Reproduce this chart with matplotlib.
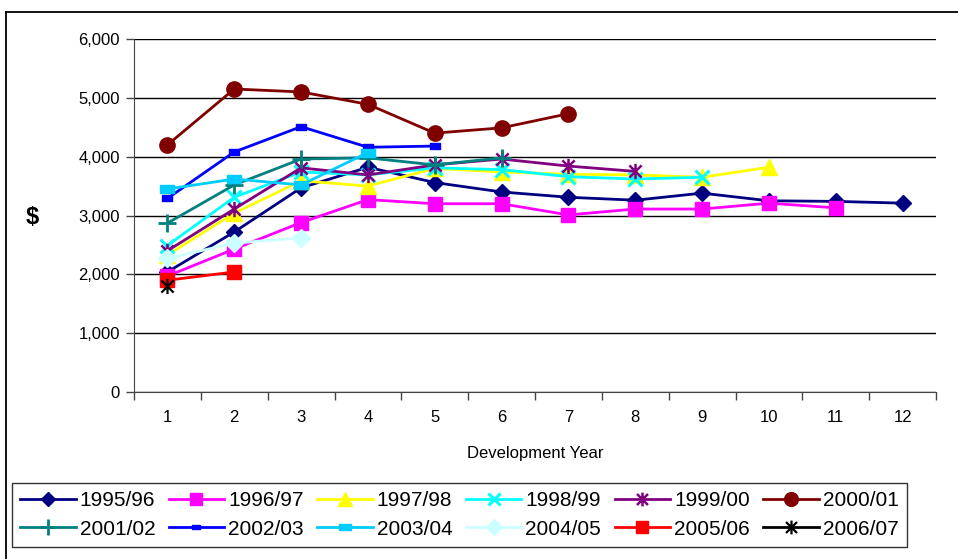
import matplotlib
matplotlib.use("Agg")
import matplotlib.pyplot as plt
from matplotlib.path import Path
from matplotlib.lines import Line2D
from matplotlib.ticker import FuncFormatter, FixedLocator, NullFormatter

plt.rcParams['font.family'] = ['Liberation Sans', 'DejaVu Sans']

dev_years = list(range(1, 13))

s1995 = [2040, 2720, 3470, 3820, 3560, 3400, 3310, 3260, 3380, 3250, 3240, 3210]
s1996 = [1970, 2430, 2880, 3270, 3200, 3200, 3010, 3110, 3110, 3210, 3130]
s1997 = [2330, 3040, 3590, 3500, 3800, 3740, 3700, 3690, 3650, 3820]
s1998 = [2490, 3310, 3740, 3690, 3810, 3780, 3660, 3620, 3650]
s1999 = [2400, 3110, 3810, 3690, 3860, 3960, 3840, 3750]
s2000 = [4200, 5150, 5100, 4890, 4400, 4490, 4730]
s2001 = [2870, 3520, 3960, 3980, 3860, 3980]
s2002 = [3290, 4080, 4510, 4160, 4180]
s2003 = [3450, 3620, 3520, 4070]
s2004 = [2270, 2530, 2620]
s2005 = [1900, 2040]
s2006 = [1800]

labels = ["1995/96", "1996/97", "1997/98", "1998/99", "1999/00", "2000/01",
          "2001/02", "2002/03", "2003/04", "2004/05", "2005/06", "2006/07"]
series = [s1995, s1996, s1997, s1998, s1999, s2000,
          s2001, s2002, s2003, s2004, s2005, s2006]

# asterisk marker: an x crossed by a vertical bar
asterisk = Path([(-1, -1), (1, 1), (-1, 1), (1, -1), (0, -1.25), (0, 1.25)],
                [Path.MOVETO, Path.LINETO, Path.MOVETO, Path.LINETO,
                 Path.MOVETO, Path.LINETO])
# flat bar marker used by the 2002/03 and 2003/04 series
flatbar = Path([(-1, -0.55), (1, -0.55), (1, 0.55), (-1, 0.55), (-1, -0.55)],
               [Path.MOVETO, Path.LINETO, Path.LINETO, Path.LINETO, Path.CLOSEPOLY])

styles = [
    dict(color="#000080", marker="D", ms=8),
    dict(color="#FF00FF", marker="s", ms=10),
    dict(color="#FFFF00", marker="^", ms=11),
    dict(color="#00FFFF", marker="x", ms=10, mew=2.2),
    dict(color="#800080", marker=asterisk, ms=11, mew=1.8),
    dict(color="#800000", marker="o", ms=11),
    dict(color="#008080", marker="+", ms=13, mew=2.0),
    dict(color="#0000FF", marker=flatbar, ms=7),
    dict(color="#00CCFF", marker=flatbar, ms=10),
    dict(color="#CCFFFF", marker="D", ms=9),
    dict(color="#FF0000", marker="s", ms=10),
    dict(color="#000000", marker=asterisk, ms=11, mew=1.6),
]

W, H = 958, 559
fig = plt.figure(figsize=(W / 100, H / 100), dpi=100)
ax = fig.add_axes([134 / W, 1 - 392 / H, (936 - 134) / W, (392 - 39) / H])

handles = []
for lab, vals, st in zip(labels, series, styles):
    xs = dev_years[:len(vals)]
    h, = ax.plot(xs, vals, color=st["color"], lw=2.0, marker=st["marker"],
                 ms=st["ms"], mfc=st["color"], mec=st["color"],
                 mew=st.get("mew", 1.0), label=lab, clip_on=False, zorder=3)
    handles.append(h)

ax.set_xlim(0.5, 12.5)
ax.set_ylim(0, 6000)
ax.set_yticks(range(0, 6001, 1000))
ax.yaxis.set_major_formatter(FuncFormatter(lambda v, p: f"{int(v):,}"))
ax.grid(axis="y", color="black", lw=1.0)
ax.set_axisbelow(True)

# category axis: tick marks between categories, labels centred on them
ax.xaxis.set_major_locator(FixedLocator([i + 0.5 for i in range(0, 13)]))
ax.xaxis.set_major_formatter(NullFormatter())
ax.xaxis.set_minor_locator(FixedLocator(dev_years))
ax.set_xticklabels([str(d) for d in dev_years], minor=True)
ax.tick_params(axis="x", which="major", length=6, width=1, direction="out", color="#444444")
ax.tick_params(axis="x", which="minor", length=0, pad=13, labelsize=12)
ax.tick_params(axis="y", length=6, width=1, direction="out", color="#444444", labelsize=12, pad=4)

for side in ("top", "right"):
    ax.spines[side].set_visible(False)
ax.spines["left"].set_color("#444444")
ax.spines["bottom"].set_color("#444444")

ax.set_xlabel("Development Year", fontsize=12, labelpad=15)
fig.text(32 / W, 1 - 218 / H, "$", fontsize=17, fontweight="bold",
         ha="center", va="center")

order = [0, 6, 1, 7, 2, 8, 3, 9, 4, 10, 5, 11]
leg = fig.legend([handles[i] for i in order], [labels[i] for i in order],
                 ncol=6, loc="center",
                 bbox_to_anchor=((11 + 908) / 2 / W, 1 - 515 / H),
                 fontsize=15, frameon=True, fancybox=False,
                 edgecolor="black", handlelength=2.65, handletextpad=0.2,
                 columnspacing=0.65, borderaxespad=0, borderpad=0.42,
                 labelspacing=0.45, markerscale=0.9)
leg.get_frame().set_linewidth(1.0)

# outer chart border
fig.add_artist(Line2D([5.5 / W, 5.5 / W], [1 - 12 / H, 0], color="black", lw=1.3,
                      transform=fig.transFigure))
fig.add_artist(Line2D([5.5 / W, 1], [1 - 12 / H, 1 - 12 / H], color="black", lw=1.3,
                      transform=fig.transFigure))

fig.savefig("out.png", dpi=100)
